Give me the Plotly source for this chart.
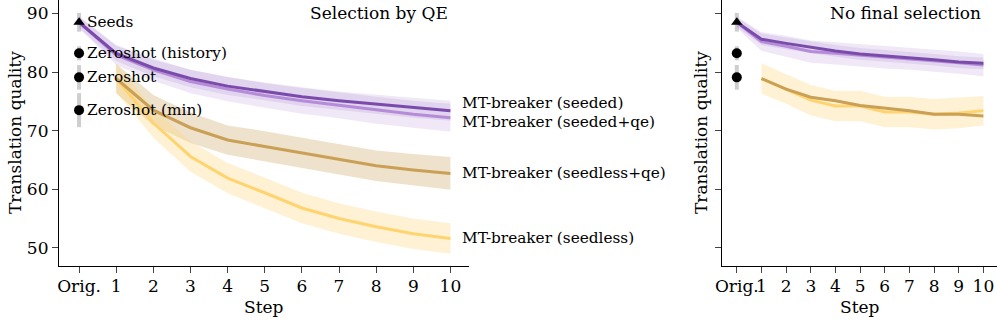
import plotly.graph_objects as go

FONT = "DejaVu Serif"

steps = [0, 1, 2, 3, 4, 5, 6, 7, 8, 9, 10]
tick_text = ["Orig.", "1", "2", "3", "4", "5", "6", "7", "8", "9", "10"]

# left panel: selection by QE
qe_seeded = [88.5, 83.2, 80.7, 78.9, 77.6, 76.7, 75.8, 75.1, 74.5, 73.9, 73.4]
qe_seeded_err = [1.0, 1.3, 1.4, 1.5, 1.5, 1.5, 1.6, 1.6, 1.6, 1.7, 1.7]
qe_seeded_qe = [88.5, 82.9, 80.4, 78.4, 77.1, 76.0, 75.1, 74.3, 73.5, 72.8, 72.2]
qe_seeded_qe_err = [1.0, 1.7, 1.9, 2.0, 2.1, 2.1, 2.2, 2.2, 2.3, 2.3, 2.4]
qe_seedless_qe = [78.9, 73.5, 70.5, 68.4, 67.3, 66.2, 65.1, 64.0, 63.3, 62.7]
qe_seedless_qe_err = [2.5, 2.6, 2.6, 2.5, 2.6, 2.6, 2.6, 2.6, 2.7, 2.8]
qe_seedless = [78.9, 71.3, 65.6, 61.9, 59.4, 56.8, 55.0, 53.6, 52.4, 51.6]
qe_seedless_err = [2.4, 2.5, 2.6, 2.6, 2.6, 2.6, 2.6, 2.6, 2.6, 2.6]

# right panel: no final selection
nf_seeded = [88.5, 85.6, 84.9, 84.2, 83.6, 83.1, 82.8, 82.4, 82.1, 81.7, 81.5]
nf_seeded_err = [0.8, 1.0, 1.0, 1.0, 1.0, 1.0, 1.0, 1.0, 1.0, 1.0, 1.0]
nf_seeded_qe = [88.5, 85.2, 84.4, 83.5, 83.2, 82.9, 82.5, 82.3, 82.0, 81.6, 81.2]
nf_seeded_qe_err = [1.0, 1.6, 1.8, 1.9, 1.9, 1.9, 1.9, 1.9, 1.9, 1.9, 1.9]
nf_seedless_qe = [78.9, 77.1, 75.7, 75.1, 74.3, 73.9, 73.4, 72.8, 72.8, 72.5]
nf_seedless = [78.9, 77.1, 75.2, 74.2, 74.2, 73.2, 73.2, 72.8, 73.0, 73.4]
nf_seedless_err = [2.6, 2.5, 2.6, 2.6, 2.6, 2.6, 2.6, 2.6, 2.6, 2.5]

# baselines at "Orig."
base_names = ["Seeds", "Zeroshot (history)", "Zeroshot", "Zeroshot (min)"]
base_values = [88.5, 83.2, 79.1, 73.5]
base_err = [1.6, 1.2, 2.1, 2.9]
base_symbols = ["triangle-up", "circle", "circle", "circle"]

DARK = "#7b4bab"
LIGHT = "#b68bd8"
TAN = "#c9a055"
YELLOW = "#ffd470"
FS = 17
LFS = 15.3


def band(x, y, err, color, xa, ya):
    up = [v + e for v, e in zip(y, err)]
    lo = [v - e for v, e in zip(y, err)]
    return go.Scatter(x=list(x) + list(x)[::-1], y=up + lo[::-1], fill="toself",
                      fillcolor=color, line=dict(width=0), mode="lines",
                      hoverinfo="skip", showlegend=False, xaxis=xa, yaxis=ya)


def line(x, y, color, xa, ya):
    return go.Scatter(x=x, y=y, mode="lines", line=dict(color=color, width=3),
                      showlegend=False, xaxis=xa, yaxis=ya)


fig = go.Figure()

panels = [
    ("x", "y", qe_seeded, qe_seeded_err, qe_seeded_qe, qe_seeded_qe_err,
     qe_seedless_qe, qe_seedless_qe_err, qe_seedless, qe_seedless_err, 4),
    ("x2", "y2", nf_seeded, nf_seeded_err, nf_seeded_qe, nf_seeded_qe_err,
     nf_seedless_qe, None, nf_seedless, nf_seedless_err, 3),
]

for xa, ya, sd, sde, sdq, sdqe, slq, slqe, sl, sle, nbase in panels:
    # grey error bars + markers for baselines
    for i in range(nbase):
        fig.add_trace(go.Scatter(
            x=[0, 0], y=[base_values[i] - base_err[i], base_values[i] + base_err[i]],
            mode="lines", line=dict(color="rgba(185,185,185,0.7)", width=4),
            showlegend=False, xaxis=xa, yaxis=ya))
    fig.add_trace(band(steps, sdq, sdqe, "rgba(182,139,216,0.2)", xa, ya))
    fig.add_trace(band(steps, sd, sde, "rgba(123,75,171,0.12)", xa, ya))
    if slqe is not None:
        fig.add_trace(band(steps[1:], slq, slqe, "rgba(201,160,85,0.3)", xa, ya))
    fig.add_trace(band(steps[1:], sl, sle, "rgba(255,212,112,0.3)", xa, ya))
    fig.add_trace(line(steps[1:], sl, YELLOW, xa, ya))
    fig.add_trace(line(steps[1:], slq, TAN, xa, ya))
    fig.add_trace(line(steps, sdq, LIGHT, xa, ya))
    fig.add_trace(line(steps, sd, DARK, xa, ya))
    fig.add_trace(go.Scatter(
        x=[0] * nbase, y=base_values[:nbase], mode="markers",
        marker=dict(symbol=base_symbols[:nbase], size=10, color="black"),
        showlegend=False, xaxis=xa, yaxis=ya))

annotations = []
for i, name in enumerate(base_names):
    annotations.append(dict(x=0, y=base_values[i], xref="x", yref="y", text=name,
                            showarrow=False, xanchor="left", xshift=6,
                            font=dict(size=LFS)))

end_labels = [("MT-breaker (seeded)", qe_seeded[-1] + 1.3),
              ("MT-breaker (seeded+qe)", qe_seeded_qe[-1] - 0.8),
              ("MT-breaker (seedless+qe)", qe_seedless_qe[-1]),
              ("MT-breaker (seedless)", qe_seedless[-1])]
for text, yv in end_labels:
    annotations.append(dict(x=10.25, y=yv, xref="x", yref="y", text=text,
                            showarrow=False, xanchor="left", font=dict(size=LFS)))

annotations.append(dict(x=10.0, y=1 - 13 / 320, xref="x", yref="paper",
                        text="Selection by QE", showarrow=False,
                        xanchor="right", yanchor="middle"))
annotations.append(dict(x=10.0, y=1 - 13 / 320, xref="x2", yref="paper",
                        text="No final selection", showarrow=False,
                        xanchor="right", yanchor="middle"))

# axis titles
for xp in [15 / 997, 701 / 997]:
    annotations.append(dict(x=xp, y=1 - 133 / 320, xref="paper", yref="paper",
                            text="Translation quality", textangle=-90, showarrow=False,
                            xanchor="center", yanchor="middle"))
for xp in [264 / 997, 860 / 997]:
    annotations.append(dict(x=xp, y=1 - 307 / 320, xref="paper", yref="paper",
                            text="Step", showarrow=False,
                            xanchor="center", yanchor="middle"))

xcommon = dict(tickmode="array", tickvals=steps, ticktext=tick_text, ticks="outside",
               ticklen=6, tickangle=0, ticklabelstandoff=-2, showline=True,
               linecolor="black", linewidth=1.2, showgrid=False, zeroline=False,
               automargin=False)
ycommon = dict(range=[46.9, 92.3], tickvals=[50, 60, 70, 80, 90], ticks="outside",
               ticklen=6, showline=True, linecolor="black", linewidth=1.2,
               showgrid=False, zeroline=False, automargin=False)

fig.update_layout(
    width=997, height=320,
    margin=dict(l=0, r=0, t=0, b=0),
    plot_bgcolor="white", paper_bgcolor="white",
    font=dict(family=FONT, color="black", size=FS),
    xaxis=dict(domain=[59 / 997, 469 / 997], range=[-0.54, 10.5], anchor="y", **xcommon),
    yaxis=dict(domain=[1 - 266 / 320, 1.0], anchor="x", **ycommon),
    xaxis2=dict(domain=[722 / 997, 1.0], range=[-0.6, 10.55], anchor="y2", **xcommon),
    yaxis2=dict(domain=[1 - 266 / 320, 1.0], anchor="x2", showticklabels=False, **ycommon),
    annotations=annotations,
)

# page body has a default margin; drop it so the figure fills the window
fig.write_html("out.html", config={"displayModeBar": False},
               post_script="document.body.style.margin = '0';")
